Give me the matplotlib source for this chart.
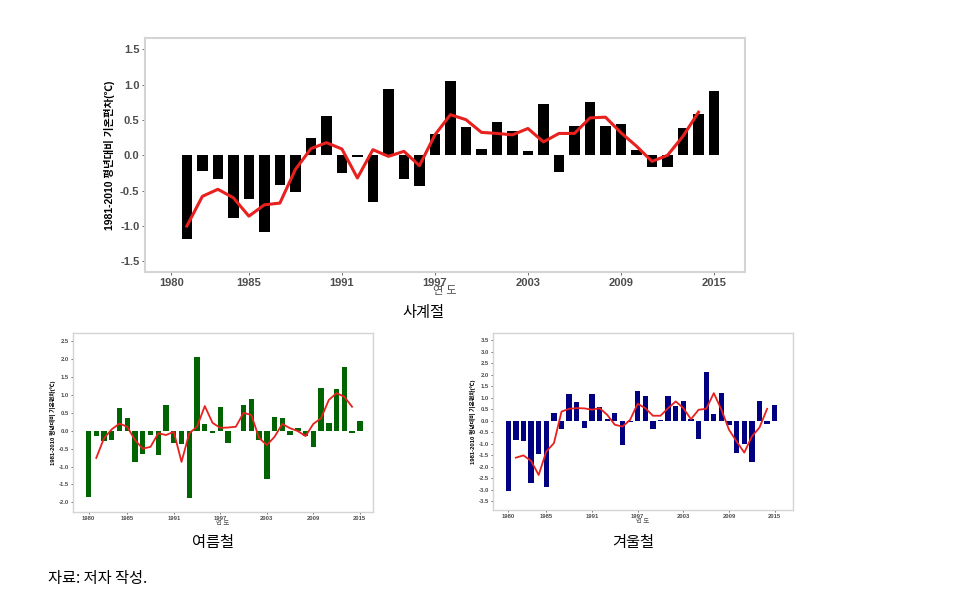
import matplotlib
matplotlib.use("Agg")
import matplotlib.pyplot as plt
import numpy as np

plt.rcParams['font.family'] = ['Liberation Sans', 'Noto Sans CJK KR', 'DejaVu Sans']

# ---------------- data ----------------
years_all = list(range(1981, 2016))
all_vals = [-1.19, -0.22, -0.33, -0.88, -0.62, -1.08, -0.42, -0.52, 0.245, 0.557,
            -0.25, -0.03, -0.665, 0.934, -0.335, -0.434, 0.307, 1.047, 0.396, 0.094,
            0.476, 0.35, 0.057, 0.72, -0.24, 0.41, 0.76, 0.42, 0.44, 0.07,
            -0.17, -0.17, 0.38, 0.58, 0.906]
smooth_years = list(range(1981, 2015))
all_smooth = [-1.0, -0.58, -0.48, -0.6, -0.86, -0.70, -0.675, -0.2, 0.094, 0.18,
              0.09, -0.32, 0.08, -0.014, 0.057, -0.146, 0.29, 0.575, 0.505, 0.325,
              0.31, 0.29, 0.38, 0.19, 0.31, 0.31, 0.53, 0.54, 0.32, 0.13,
              -0.085, 0.0, 0.27, 0.61]

years_season = list(range(1980, 2016))
summer_vals = [-1.85, -0.15, -0.29, -0.26, 0.63, 0.36, -0.87, -0.64, -0.12, -0.68,
               0.72, -0.355, -0.38, -1.88, 2.05, 0.18, -0.07, 0.65, -0.355, -0.02,
               0.71, 0.89, -0.26, -1.36, 0.37, 0.35, -0.12, 0.08, -0.14, -0.45,
               1.19, 0.22, 1.16, 1.78, -0.07, 0.28]
summer_smooth = [-0.76, -0.21, 0.04, 0.2, 0.11, -0.26, -0.5, -0.45, -0.07, -0.12,
                 -0.03, -0.87, -0.07, 0.11, 0.69, 0.22, 0.08, 0.09, 0.11, 0.5,
                 0.44, -0.2, -0.4, -0.17, 0.19, 0.07, -0.01, -0.15, 0.19, 0.35,
                 0.86, 1.05, 0.95, 0.67]
winter_vals = [-3.04, -0.83, -0.87, -2.71, -1.43, -2.86, 0.33, -0.35, 1.16, 0.8,
               -0.3, 1.16, 0.62, 0.09, 0.36, -1.03, -0.07, 1.3, 1.06, -0.36,
               0.02, 1.06, 0.65, 0.84, 0.07, -0.8, 2.12, 0.29, 1.22, -0.17,
               -1.39, -1.0, -1.77, 0.88, -0.15, 0.68]
winter_smooth = [-1.6, -1.5, -1.74, -2.35, -1.33, -0.97, 0.4, 0.52, 0.55, 0.54,
                 0.48, 0.55, 0.26, -0.17, -0.25, 0.04, 0.74, 0.55, 0.22, 0.22,
                 0.55, 0.84, 0.55, 0.07, 0.48, 0.52, 1.2, 0.48, -0.39, -0.9,
                 -1.38, -0.68, -0.29, 0.52]

xticks = [1980, 1985, 1991, 1997, 2003, 2009, 2015]
ylabel = "1981-2010 평년대비 기온편차(℃)"
xlabel = "연 도"

W, H = 954, 601
fig = plt.figure(figsize=(W / 100, H / 100), dpi=100)


def pax(x0, y0, x1, y1):
    return fig.add_axes([x0 / W, 1 - y1 / H, (x1 - x0) / W, (y1 - y0) / H])


def style(ax, xlim, ylim, yticks, fs, lw_frame):
    ax.set_xlim(*xlim)
    ax.set_ylim(*ylim)
    ax.set_xticks(xticks)
    ax.set_xticklabels([str(t) for t in xticks], fontsize=fs, fontweight='bold', color='#4d4d4d')
    ax.set_yticks(yticks)
    ax.set_yticklabels([f"{t:.1f}" for t in yticks], fontsize=fs, fontweight='bold', color='#4d4d4d')
    ax.tick_params(length=2, width=0.6, color='#555555', pad=2)
    for s in ax.spines.values():
        s.set_color('#d4d4d4')
        s.set_linewidth(lw_frame)
    ax.set_facecolor('white')


# top chart
ax = pax(145, 38, 745, 272)
ax.bar(years_all, all_vals, width=0.68, color='black', zorder=2)
ax.plot(smooth_years, all_smooth, color='#e8201e', lw=2.2, zorder=3)
style(ax, (1978.3, 2017.0), (-1.65, 1.66), [-1.5, -1.0, -0.5, 0.0, 0.5, 1.0, 1.5], 8, 1.5)
ax.set_ylabel(ylabel, fontsize=7.5, fontweight='bold', labelpad=4)
ax.set_xlabel(xlabel, fontsize=8, color='#4d4d4d', labelpad=-1)

# summer chart
ax2 = pax(73, 333, 373, 512)
ax2.bar(years_season, summer_vals, width=0.7, color='#006400', zorder=2)
ax2.plot(smooth_years, summer_smooth, color='#e8201e', lw=1.3, zorder=3)
style(ax2, (1978.0, 2016.7), (-2.27, 2.73), [-2.0, -1.5, -1.0, -0.5, 0.0, 0.5, 1.0, 1.5, 2.0, 2.5], 4.2, 1.0)
ax2.tick_params(length=1.5, pad=1.5)
ax2.set_ylabel(ylabel, fontsize=4.2, fontweight='bold', labelpad=2)
ax2.set_xlabel(xlabel, fontsize=4.5, color='#4d4d4d', labelpad=0)

# winter chart
ax3 = pax(493, 333, 793, 510)
ax3.bar(years_season, winter_vals, width=0.7, color='#000080', zorder=2)
ax3.plot(smooth_years, winter_smooth, color='#e8201e', lw=1.3, zorder=3)
style(ax3, (1978.0, 2017.4), (-3.87, 3.81),
      [-3.5, -3.0, -2.5, -2.0, -1.5, -1.0, -0.5, 0.0, 0.5, 1.0, 1.5, 2.0, 2.5, 3.0, 3.5], 4.2, 1.0)
ax3.tick_params(length=1.5, pad=1.5)
ax3.set_ylabel(ylabel, fontsize=4.2, fontweight='bold', labelpad=2)
ax3.set_xlabel(xlabel, fontsize=4.5, color='#4d4d4d', labelpad=0)

# captions
cap = dict(family=['Noto Sans CJK KR', 'DejaVu Sans'], fontsize=11, color='black', va='center')
fig.text(423 / W, 1 - 312 / H, "사계절", ha='center', **cap)
fig.text(213 / W, 1 - 542 / H, "여름철", ha='center', **cap)
fig.text(633 / W, 1 - 542 / H, "겨울철", ha='center', **cap)
fig.text(48 / W, 1 - 578 / H, "자료: 저자 작성.", ha='left', **cap)

fig.savefig("out.png", dpi=100, facecolor='white')
